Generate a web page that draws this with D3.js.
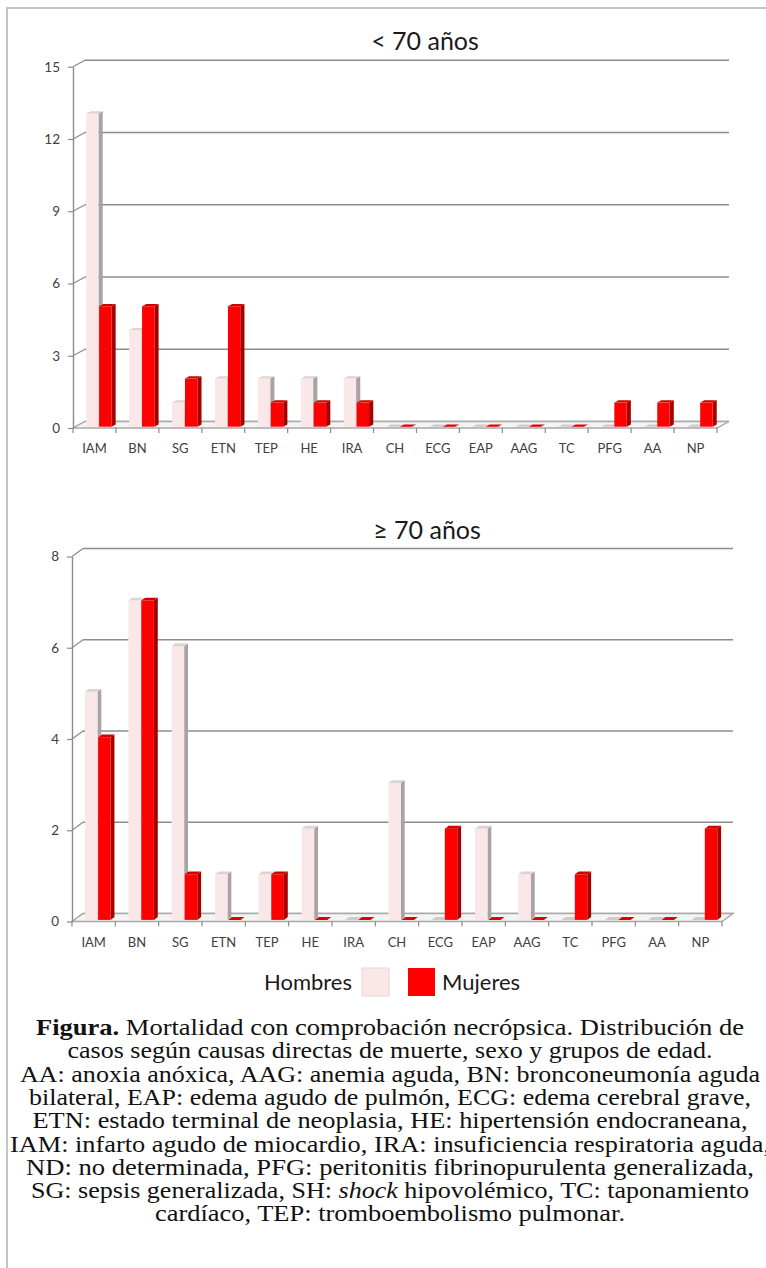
<!DOCTYPE html>
<html><head><meta charset="utf-8">
<script src="https://cdn.jsdelivr.net/npm/d3@7"></script>
<style>html,body{margin:0;padding:0;background:#fff;} svg{display:block}
.cap{font-family:"Liberation Serif","Times New Roman",Times,serif;}
</style>
</head><body>
<svg id="c" width="766" height="1268"></svg>
<script>
// ---------- DATA ----------
const categories = ["IAM","BN","SG","ETN","TEP","HE","IRA","CH","ECG","EAP","AAG","TC","PFG","AA","NP"];
const seriesNames = ["Hombres","Mujeres"];
const under70Hombres = [13,4,1,2,2,2,2,0,0,0,0,0,0,0,0];
const under70Mujeres = [5,5,2,5,1,1,1,0,0,0,0,0,1,1,1];
const over70Hombres  = [5,7,6,1,1,2,0,3,0,2,1,0,0,0,0];
const over70Mujeres  = [4,7,1,0,1,0,0,0,2,0,0,1,0,0,2];
const under70Ticks = [0,3,6,9,12,15];
const over70Ticks  = [0,2,4,6,8];
const chartTitles = ["< 70 años","≥ 70 años"];
const captionLines = [
  "**Figura.** Mortalidad con comprobación necrópsica. Distribución de",
  "casos según causas directas de muerte, sexo y grupos de edad.",
  "AA: anoxia anóxica, AAG: anemia aguda, BN: bronconeumonía aguda",
  "bilateral, EAP: edema agudo de pulmón, ECG: edema cerebral grave,",
  "ETN: estado terminal de neoplasia, HE: hipertensión endocraneana,",
  "IAM: infarto agudo de miocardio, IRA: insuficiencia respiratoria aguda,",
  "ND: no determinada, PFG: peritonitis fibrinopurulenta generalizada,",
  "SG: sepsis generalizada, SH: *shock* hipovolémico, TC: taponamiento",
  "cardíaco, TEP: tromboembolismo pulmonar."
];

// ---------- LAYOUT / STYLE ----------
const svg = d3.select("#c");
const chartFont = "Lato, 'Open Sans', sans-serif";
const colors = {
  Hombres: {front:"#FAE7E7", side:"#A9A3A3", top:"#DDD3D3"},
  Mujeres: {front:"#FF0000", side:"#A80000", top:"#D40000"}
};
const gridColor = "#8C8C8C";

svg.append("rect").attr("x",7).attr("y",8).attr("width",820).attr("height",1320)
  .attr("fill","none").attr("stroke","#C4C4C4").attr("stroke-width",2);

const charts = [
  {title:chartTitles[0], titleY:50, hom:under70Hombres, muj:under70Mujeres, ticks:under70Ticks,
   x0:73, x1:717, yTop:66.7, yBottom:428, depth:[12,-6.5], labelPad:16},
  {title:chartTitles[1], titleY:539, hom:over70Hombres, muj:over70Mujeres, ticks:over70Ticks,
   x0:72, x1:722, yTop:556.5, yBottom:921.5, depth:[11,-8], labelPad:16}
];

charts.forEach(cfg => {
  const g = svg.append("g");
  const [dx,dy] = cfg.depth;
  const x = d3.scaleBand().domain(categories).range([cfg.x0,cfg.x1]);
  const y = d3.scaleLinear().domain([0, d3.max(cfg.ticks)]).range([cfg.yBottom,cfg.yTop]);
  const bw = x.step();
  const xs = d3.scaleBand().domain(seriesNames).range([0.25*bw, 0.84*bw]).paddingInner(0.05);

  g.append("text").attr("x",(cfg.x0+cfg.x1)/2+30).attr("y",cfg.titleY)
    .attr("text-anchor","middle").attr("font-family",chartFont).attr("font-size",25)
    .attr("fill","#1a1a1a").text(cfg.title);

  cfg.ticks.forEach(t => {
    g.append("line").attr("x1",cfg.x0+dx).attr("x2",cfg.x1+dx)
      .attr("y1",y(t)+dy).attr("y2",y(t)+dy)
      .attr("stroke", t===0 ? "#A8A8A8" : gridColor).attr("stroke-width",1.6);
    g.append("line").attr("x1",cfg.x0).attr("y1",y(t)).attr("x2",cfg.x0+dx).attr("y2",y(t)+dy)
      .attr("stroke",gridColor).attr("stroke-width",1.2);
  });
  g.append("path").attr("d",`M${cfg.x0},${y(0)}L${cfg.x1},${y(0)}L${cfg.x1+dx},${y(0)+dy}L${cfg.x0+dx},${y(0)+dy}Z`)
    .attr("fill","#F4F4F4").attr("stroke","#A8A8A8").attr("stroke-width",1.4);
  d3.range(categories.length+1).forEach(i => {
    const xx = cfg.x0 + i*bw;
    g.append("line").attr("x1",xx).attr("x2",xx).attr("y1",y(0)).attr("y2",y(0)+5)
      .attr("stroke","#8C8C8C").attr("stroke-width",1.2);
  });

  const ya = g.append("g").attr("transform",`translate(${cfg.x0},0)`)
    .call(d3.axisLeft(y).tickValues(cfg.ticks).tickSize(5).tickSizeOuter(0).tickPadding(8));
  ya.select(".domain").attr("stroke","#8C8C8C").attr("stroke-width",1.4);
  ya.selectAll(".tick line").attr("stroke","#8C8C8C").attr("stroke-width",1.2);
  ya.selectAll("text").attr("font-family",chartFont).attr("font-size",13.5).attr("fill","#404040");

  const xa = g.append("g").attr("transform",`translate(0,${y(0)})`)
    .call(d3.axisBottom(x).tickSize(0).tickPadding(cfg.labelPad));
  xa.select(".domain").remove();
  xa.selectAll("text").attr("font-family",chartFont).attr("font-size",13).attr("fill","#404040");

  const tf = 0.2, bd = 0.35;
  const bars = [];
  categories.forEach((c,i) => {
    bars.push({c, s:"Hombres", v:cfg.hom[i]});
    bars.push({c, s:"Mujeres", v:cfg.muj[i]});
  });
  const bg = g.append("g");
  bars.forEach(b => {
    const w = xs.bandwidth();
    const fx = x(b.c) + xs(b.s) + tf*dx;
    const base = y(0) + tf*dy;
    const top = y(b.v) + tf*dy;
    const sx = bd*dx, sy = bd*dy;
    const col = colors[b.s];
    const bgg = bg.append("g");
    if (b.v > 0) {
      bgg.append("path").attr("d",`M${fx+w},${top}L${fx+w+sx},${top+sy}L${fx+w+sx},${base+sy}L${fx+w},${base}Z`)
        .attr("fill",col.side);
      bgg.append("rect").attr("x",fx).attr("y",top).attr("width",w).attr("height",base-top)
        .attr("fill",col.front);
    }
    bgg.append("path").attr("d",`M${fx},${top}L${fx+sx},${top+sy}L${fx+w+sx},${top+sy}L${fx+w},${top}Z`)
      .attr("fill", b.v>0 ? col.top : (b.s==="Hombres" ? "#D0CACA" : "#E00000"));
  });
});

const lg = svg.append("g").attr("font-family",chartFont).attr("font-size",22).attr("fill","#1a1a1a");
lg.append("text").attr("x",352).attr("y",990).attr("text-anchor","end").text(seriesNames[0]);
lg.append("rect").attr("x",362).attr("y",968).attr("width",27).attr("height",28)
  .attr("fill",colors.Hombres.front).attr("stroke","#E3D8D8");
lg.append("rect").attr("x",408).attr("y",968).attr("width",27).attr("height",28)
  .attr("fill",colors.Mujeres.front);
lg.append("text").attr("x",442).attr("y",990).text(seriesNames[1]);

const capLengths = [708, 645, 740, 722, 715, 760, 728, 718, 470];
const cap = svg.append("g").attr("class","cap").attr("font-size",23).attr("fill","#111");
captionLines.forEach((line,i) => {
  const t = cap.append("text").attr("x",390).attr("y",1035 + i*23.3).attr("text-anchor","middle")
    .attr("textLength",capLengths[i]).attr("lengthAdjust","spacingAndGlyphs");
  const parts = line.split(/(\*\*[^*]+\*\*|\*[^*]+\*)/).filter(p => p.length);
  parts.forEach(p => {
    if (p.startsWith("**")) t.append("tspan").attr("font-weight","bold").text(p.slice(2,-2));
    else if (p.startsWith("*")) t.append("tspan").attr("font-style","italic").text(p.slice(1,-1));
    else t.append("tspan").text(p);
  });
});
</script>
</body></html>
